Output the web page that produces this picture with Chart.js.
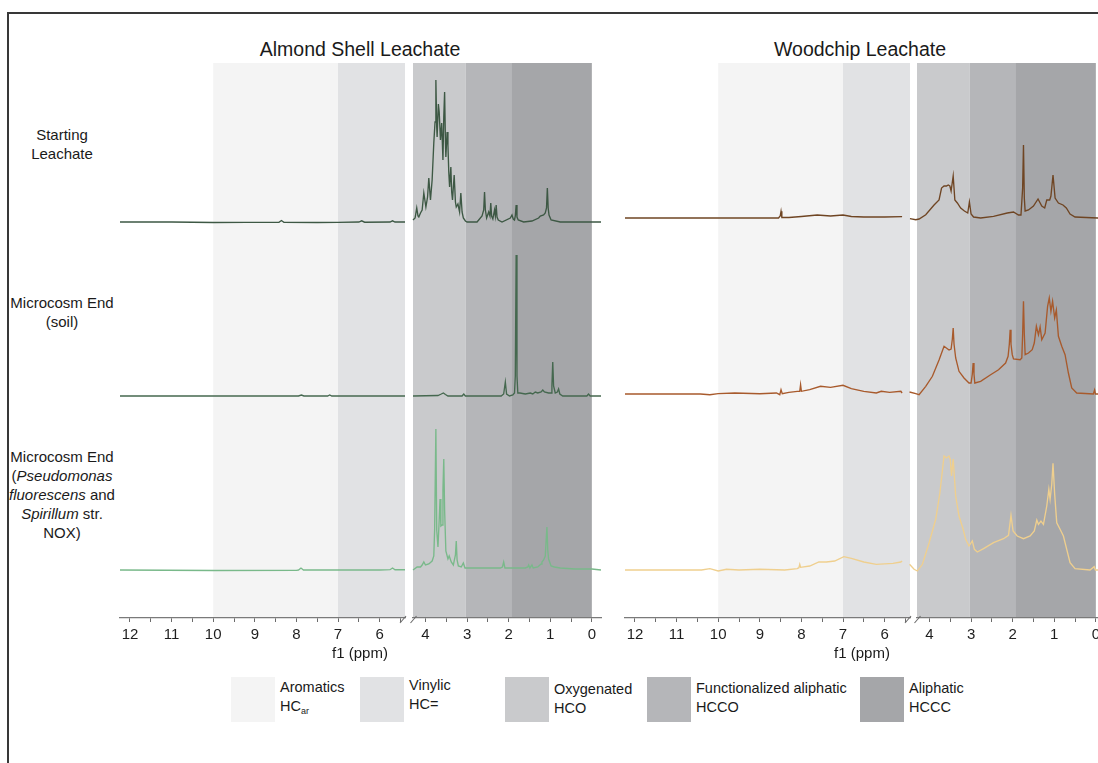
<!DOCTYPE html>
<html>
<head>
<meta charset="utf-8">
<script src="https://cdn.jsdelivr.net/npm/chart.js@4.4.1/dist/chart.umd.min.js"></script>
<style>
  html, body { margin: 0; padding: 0; width: 1098px; height: 763px; overflow: hidden; background: #fff; }
  body { position: relative; font-family: 'Liberation Sans', Arial, sans-serif; color: #1a1a1a; }
  #frame { position: absolute; left: 7px; top: 12px; width: 1200px; height: 800px;
           border-left: 2px solid #383838; border-top: 2px solid #383838; }
  canvas { position: absolute; }
  .title { position: absolute; font-size: 19.5px; white-space: nowrap; transform: translate(-50%, -50%); }
  .rowlabel { position: absolute; left: 2px; width: 120px; text-align: center; font-size: 15px; line-height: 19px; }
  .axistitle { position: absolute; font-size: 15px; white-space: nowrap; transform: translate(-50%, -50%); }
  .lgbox { position: absolute; top: 677px; width: 44px; height: 45px; }
  .lgtext { position: absolute; font-size: 14.5px; line-height: 19px; white-space: nowrap; }
  .lgtext sub { font-size: 9px; vertical-align: -3px; }
</style>
</head>
<body>
<div id="frame"></div>

<div class="title" style="left:360px; top:49px;">Almond Shell Leachate</div>
<div class="title" style="left:860px; top:49px;">Woodchip Leachate</div>

<div class="rowlabel" style="top:125px;">Starting<br>Leachate</div>
<div class="rowlabel" style="top:293px;">Microcosm End<br>(soil)</div>
<div class="rowlabel" style="top:447px;">Microcosm End<br>(<i>Pseudomonas</i><br><i>fluorescens</i> and<br><i>Spirillum</i> str.<br>NOX)</div>

<canvas id="almondLow"></canvas>
<canvas id="almondHigh"></canvas>
<canvas id="woodLow"></canvas>
<canvas id="woodHigh"></canvas>

<div class="axistitle" style="left:360px; top:652px;">f1 (ppm)</div>
<div class="axistitle" style="left:862px; top:652px;">f1 (ppm)</div>

<div id="legend"></div>

<script>
// chemical shift ticks (ppm) on both sides of the axis break
const ppmTicksLow = [12, 11.5, 11, 10.5, 10, 9.5, 9, 8.5, 8, 7.5, 7, 6.5, 6, 5.5];
const ppmTicksHigh = [4, 3.5, 3, 2.5, 2, 1.5, 1, 0.5, 0];

// proton regions
const regionNames = ['Aromatics', 'Vinylic', 'Oxygenated', 'Functionalized aliphatic', 'Aliphatic'];
const regionCodes = ['HC<sub>ar</sub>', 'HC=', 'HCO', 'HCCO', 'HCCC'];
const regionFrom = [10, 7, 4.5, 3.03, 1.92];
const regionTo = [7, 4.5, 3.03, 1.92, 0];
const regionColors = ['#f4f4f4', '#e1e2e4', '#c9cacc', '#b5b6b9', '#a5a6a9'];

// spectra as [ppm, intensity (a.u.)]; "Low" = 12.2-5.4 ppm, "High" = 4.5 to -0.2 ppm
const almondStartLow = [[12.24,0],[11,0],[10,-0.5],[9.2,-0.3],[8.42,-0.3],[8.36,1.5],[8.3,-0.3],[7.5,-0.5],[7,-0.3],[6.5,0],[6.43,1.2],[6.36,-0.2],[5.75,0],[5.69,1.2],[5.63,0],[5.39,0]];
const almondStartHigh = [[4.3,2],[4.25,4],[4.21,14],[4.18,6],[4.16,5],[4.12,9],[4.08,12],[4.04,29],[3.99,15],[3.95,25],[3.92,44],[3.88,22],[3.84,42],[3.8,79],[3.77,100],[3.75,142],[3.73,95],[3.72,85],[3.69,118],[3.67,110],[3.64,82],[3.61,99],[3.58,62],[3.56,105],[3.54,130],[3.52,80],[3.51,65],[3.48,90],[3.46,77],[3.44,50],[3.42,35],[3.39,55],[3.37,30],[3.35,22],[3.31,47],[3.28,20],[3.26,15],[3.22,18],[3.18,10],[3.15,29],[3.12,10],[3.09,4],[3.04,1],[3,0],[2.76,0],[2.64,6],[2.6,12],[2.58,30],[2.56,12],[2.53,4],[2.48,10],[2.45,6],[2.43,19],[2.41,6],[2.38,3],[2.34,12],[2.32,6],[2.3,17],[2.28,5],[2.25,2],[2.16,0],[1.96,4],[1.92,7],[1.89,3],[1.86,2],[1.84,6],[1.82,17],[1.8,5],[1.77,2],[1.64,0],[1.44,1],[1.28,4],[1.24,6],[1.16,7],[1.12,9],[1.09,14],[1.07,34],[1.05,14],[1.03,7],[0.98,2],[0.76,0],[0.4,0],[0,0],[-0.22,0]];

const almondSoilLow = [[12.24,0],[10,0],[7.95,0],[7.88,1],[7.82,0],[7.25,0],[7.2,1],[7.15,0],[5.39,0]];
const almondSoilHigh = [[4.3,0],[3.7,0.5],[3.62,2],[3.57,3],[3.52,1.5],[3.46,0],[3.12,0],[3.08,2],[3.04,0],[2.18,0],[2.12,2],[2.08,14],[2.05,2],[1.98,0],[1.9,1],[1.86,3],[1.84,20],[1.82,141],[1.8,20],[1.78,3],[1.73,3],[1.6,2],[1.48,3],[1.42,2],[1.36,4],[1.3,3],[1.22,4],[1.18,6],[1.14,4],[1.04,3],[0.98,3],[0.96,10],[0.94,34],[0.92,10],[0.88,3],[0.83,4],[0.8,7],[0.77,2],[0.7,0],[0.12,0],[0.08,2],[0.04,0],[-0.22,0]];

const almondNoxLow = [[12.24,0],[10,-0.5],[8,-0.3],[7.95,0],[7.89,2],[7.83,0],[6,0],[5.75,0.3],[5.69,2],[5.63,0.3],[5.39,0.3]];
const almondNoxHigh = [[4.3,0],[4.2,3],[4.12,3],[4.08,5],[4.04,8],[4,5],[3.92,6],[3.84,9],[3.8,14],[3.78,40],[3.75,141],[3.73,40],[3.7,23],[3.67,50],[3.65,71],[3.63,44],[3.6,45],[3.58,80],[3.56,111],[3.54,60],[3.51,19],[3.46,11],[3.43,14],[3.38,8],[3.33,5],[3.28,15],[3.26,29],[3.24,10],[3.21,4],[3.14,3],[3.09,7],[3.05,2],[2.8,2],[2.2,2],[2.15,3],[2.12,8],[2.09,2],[1.92,2],[1.6,2],[1.54,3],[1.52,5],[1.49,2],[1.44,5],[1.41,2],[1.3,3],[1.22,6],[1.2,8],[1.16,10],[1.12,14],[1.08,43],[1.06,20],[1.04,11],[0.98,4],[0.9,3],[0.76,2],[0.4,1],[0,1],[-0.22,0]];

const woodStartLow = [[12.24,0],[10.5,0],[9,0],[8.55,0],[8.51,2],[8.49,6.7],[8.47,0.5],[8.3,0.5],[8,1.5],[7.62,3],[7.3,2],[7,3],[6.8,1.5],[6.5,1],[6,1],[5.58,1.3]];
const woodStartHigh = [[4.47,-0.7],[4.33,-1.7],[4.25,-1],[4.09,3.3],[3.89,13],[3.77,18],[3.71,30],[3.65,32],[3.59,32],[3.55,33],[3.51,32],[3.48,27],[3.43,42],[3.39,18],[3.33,15],[3.25,10],[3.16,7],[3.08,5],[3.04,16],[3,4],[2.94,1],[2.77,0],[2.46,1.7],[2.13,5],[1.98,6],[1.86,3],[1.8,3],[1.76,30],[1.74,73],[1.72,20],[1.7,7],[1.62,8],[1.5,12],[1.39,19],[1.3,12],[1.23,10],[1.18,18],[1.11,18],[1.08,22],[1.03,43],[0.98,20],[0.9,15],[0.79,13],[0.71,10],[0.62,4],[0.5,1],[-0.04,0],[-0.22,0]];

const woodSoilLow = [[12.24,0],[10.43,0],[10.2,-0.7],[10,0.3],[9.6,1],[9,0.3],[8.6,1],[8.52,-0.7],[8.49,4.3],[8.46,0.3],[8.3,1.7],[8.1,2.7],[8.04,2.7],[8.02,9.3],[8,2.7],[7.8,4.3],[7.54,7.7],[7.3,6.7],[7,8.7],[6.8,5.3],[6.5,2.7],[6.2,1],[6.08,2.7],[5.88,1.7],[5.61,2.7],[5.58,1]];
const woodSoilHigh = [[4.48,2],[4.33,0.3],[4.25,-0.7],[4.09,7.7],[3.93,17.7],[3.77,34],[3.65,47.7],[3.53,44],[3.48,45],[3.45,55],[3.43,66],[3.41,50],[3.37,36],[3.29,22.7],[3.17,16],[3.05,11],[3,11],[2.97,20],[2.95,31],[2.93,20],[2.91,11],[2.77,12.7],[2.53,19.3],[2.34,24.3],[2.17,31],[2.11,37.7],[2.08,50],[2.06,64.3],[2.04,50],[2.01,39.3],[1.98,35],[1.82,34.3],[1.78,36],[1.76,60],[1.74,92.7],[1.72,60],[1.7,39.3],[1.62,41],[1.53,44.3],[1.48,51],[1.43,67.7],[1.38,59.3],[1.34,67],[1.3,54.3],[1.22,61],[1.16,87.7],[1.12,96],[1.08,82.7],[1.04,92.7],[0.99,76],[0.95,84],[0.9,57.7],[0.82,47.7],[0.74,39.3],[0.66,21],[0.58,6],[0.46,1],[0.06,0],[0.03,4],[0.01,0],[-0.22,0]];

const woodNoxLow = [[12.24,0],[10.4,0],[10.2,1.3],[10,-1],[9.8,0.7],[9.5,0],[9,0.7],[8.4,0],[8.1,1.3],[8.06,2.3],[8.04,5.7],[8.02,2.7],[7.8,4],[7.58,8],[7.4,8],[7.2,9],[6.98,13.3],[6.8,11.7],[6.5,8],[6.2,5.7],[5.8,6.7],[5.61,8],[5.58,9]];
const woodNoxHigh = [[4.48,5.7],[4.37,0.7],[4.29,-1],[4.17,5.7],[4.01,27],[3.85,50.7],[3.75,77],[3.65,114],[3.59,112],[3.53,114],[3.5,110.7],[3.47,94],[3.43,111],[3.37,74],[3.29,54],[3.19,40.7],[3.13,30.7],[3.05,24],[2.97,29],[2.92,20.7],[2.85,18],[2.7,21.3],[2.46,27.3],[2.22,31.3],[2.1,34.7],[2.04,54.7],[1.99,39],[1.89,34],[1.74,31.3],[1.58,34],[1.48,39],[1.42,50],[1.38,45.7],[1.32,49],[1.26,45.7],[1.18,64],[1.13,80.7],[1.1,70.7],[1.06,85.7],[1.03,106.7],[0.99,75.7],[0.94,47.3],[0.86,40.7],[0.78,34],[0.7,20.7],[0.62,7.3],[0.5,1.3],[0.14,0],[0.04,3.3],[0.01,0],[-0.22,0]];

const almondColors = ['#3d5844', '#45684f', '#79b98a'];
const woodColors = ['#6f4523', '#a85a2c', '#efcf8e'];

// vertical offset of each trace in the stack (top, middle, bottom)
const almondRows = [348, 174, 0];
const woodRows = [352, 176, 0];

const FONT = "'Liberation Sans', Arial, sans-serif";

// grey proton-region bands behind the traces
const regionShading = {
  id: 'regionShading',
  beforeDraw(chart) {
    const { ctx, chartArea: a, scales: { x } } = chart;
    ctx.save();
    ctx.beginPath();
    ctx.rect(a.left, a.top, a.right - a.left, a.bottom - a.top);
    ctx.clip();
    regionFrom.forEach((from, i) => {
      const x1 = x.getPixelForValue(from);
      const x2 = x.getPixelForValue(regionTo[i]);
      ctx.fillStyle = regionColors[i];
      ctx.fillRect(Math.min(x1, x2), a.top, Math.abs(x2 - x1), a.bottom - a.top);
    });
    ctx.restore();
  }
};

// little slash where the ppm axis is cut
const axisBreak = {
  id: 'axisBreak',
  afterDraw(chart, args, opts) {
    const { ctx, chartArea: a } = chart;
    const cx = opts.side === 'right' ? a.right - 2 : a.left + 0.5;
    const cy = a.bottom + 1.5;
    ctx.save();
    ctx.strokeStyle = '#6b6b6b';
    ctx.lineWidth = 1.1;
    ctx.beginPath();
    ctx.moveTo(cx - 3, cy + 3.5);
    ctx.lineTo(cx + 3, cy - 3.5);
    ctx.stroke();
    ctx.restore();
  }
};

const PAD = 12;

function drawSegment(seg) {
  const cv = document.getElementById(seg.id);
  cv.width = seg.width + 2 * PAD;
  cv.height = 600;
  cv.style.left = (seg.left - PAD) + 'px';
  cv.style.top = '63px';

  new Chart(cv, {
    type: 'line',
    data: {
      datasets: seg.spectra.map((pts, i) => ({
        data: pts.map(([ppm, v]) => ({ x: ppm, y: v + seg.rows[i] })),
        borderColor: seg.colors[i],
        borderWidth: 1.35,
        pointRadius: 0,
        tension: 0,
        fill: false,
        clip: false
      }))
    },
    options: {
      responsive: false,
      animation: false,
      devicePixelRatio: 1,
      layout: { padding: { left: PAD, right: PAD, top: 0, bottom: 0 } },
      plugins: {
        legend: { display: false },
        tooltip: { enabled: false },
        axisBreak: { side: seg.breakSide }
      },
      scales: {
        x: {
          type: 'linear',
          reverse: true,
          min: seg.min,
          max: seg.max,
          afterBuildTicks: s => { s.ticks = seg.ticks.map(v => ({ value: v })); },
          afterFit: s => { s.height = 45; },
          ticks: {
            autoSkip: false,
            maxRotation: 0,
            padding: 4,
            color: '#1e1e1e',
            font: { family: FONT, size: 15 },
            callback: v => Number.isInteger(v) ? String(v) : ''
          },
          grid: { drawOnChartArea: false, drawTicks: true, tickLength: 4, color: '#6b6b6b', lineWidth: 1 },
          border: { display: true, color: '#7a7a7a', width: 1.3 }
        },
        y: { display: false, min: -48, max: 507 }
      }
    },
    plugins: [regionShading, axisBreak]
  });
}

drawSegment({ id: 'almondLow', left: 120, width: 285.5, min: 5.39, max: 12.24, ticks: ppmTicksLow,
  rows: almondRows, colors: almondColors, breakSide: 'right',
  spectra: [almondStartLow, almondSoilLow, almondNoxLow] });
drawSegment({ id: 'almondHigh', left: 412.5, width: 188.3, min: -0.22, max: 4.3, ticks: ppmTicksHigh,
  rows: almondRows, colors: almondColors, breakSide: 'left',
  spectra: [almondStartHigh, almondSoilHigh, almondNoxHigh] });
drawSegment({ id: 'woodLow', left: 625, width: 285.5, min: 5.39, max: 12.24, ticks: ppmTicksLow,
  rows: woodRows, colors: woodColors, breakSide: 'right',
  spectra: [woodStartLow, woodSoilLow, woodNoxLow] });
drawSegment({ id: 'woodHigh', left: 916.8, width: 188.3, min: -0.22, max: 4.3, ticks: ppmTicksHigh,
  rows: woodRows, colors: woodColors, breakSide: 'left',
  spectra: [woodStartHigh, woodSoilHigh, woodNoxHigh] });

// region key under the panels
const legendBoxX = [231, 360, 505, 647, 860];
const legendTextTop = [678, 676, 680, 679, 679];
const legend = document.getElementById('legend');
regionNames.forEach((name, i) => {
  const box = document.createElement('div');
  box.className = 'lgbox';
  box.style.left = legendBoxX[i] + 'px';
  box.style.background = regionColors[i];
  legend.appendChild(box);
  const txt = document.createElement('div');
  txt.className = 'lgtext';
  txt.style.left = (legendBoxX[i] + 49) + 'px';
  txt.style.top = legendTextTop[i] + 'px';
  txt.innerHTML = name + '<br>' + regionCodes[i];
  legend.appendChild(txt);
});
</script>
</body>
</html>
